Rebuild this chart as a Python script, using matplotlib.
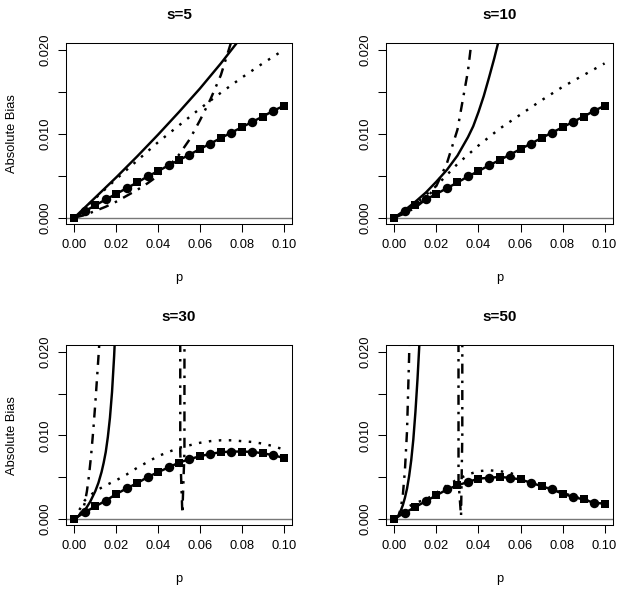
import matplotlib
matplotlib.use('Agg')
import matplotlib.pyplot as plt

plt.rcParams['font.family'] = ['Liberation Sans', 'DejaVu Sans']
plt.rcParams['lines.scale_dashes'] = False

# ---------------- data ----------------
titles = ["s=5", "s=10", "s=30", "s=50"]
x_ticks = [0.00, 0.02, 0.04, 0.06, 0.08, 0.10]
x_tick_labels = ["0.00", "0.02", "0.04", "0.06", "0.08", "0.10"]
y_ticks = [0.000, 0.005, 0.010, 0.015, 0.020]
y_tick_labels = ["0.000", "", "0.010", "", "0.020"]

# marker series (p step 0.005)
p_mk = [0.000, 0.005, 0.010, 0.015, 0.020, 0.025, 0.030, 0.035, 0.040, 0.045, 0.050,
        0.055, 0.060, 0.065, 0.070, 0.075, 0.080, 0.085, 0.090, 0.095, 0.100]
mk_s5 = [0, 0.00075, 0.00147, 0.00216, 0.00283, 0.00351, 0.00419, 0.00491, 0.00555, 0.00623, 0.00686,
         0.00751, 0.00818, 0.00883, 0.00950, 0.01014, 0.01078, 0.01142, 0.01206, 0.01273, 0.01333]
mk_s10 = [0, 0.00075, 0.00147, 0.00216, 0.00283, 0.00351, 0.00419, 0.00491, 0.00555, 0.00623, 0.00686,
          0.00751, 0.00818, 0.00883, 0.00950, 0.01014, 0.01078, 0.01142, 0.01206, 0.01273, 0.01335]
mk_s30 = [0, 0.00076, 0.00147, 0.00215, 0.00295, 0.00363, 0.00426, 0.00498, 0.00558, 0.00614, 0.00673,
          0.00713, 0.00749, 0.00777, 0.00797, 0.00805, 0.00805, 0.00801, 0.00785, 0.00761, 0.00729]
mk_s50 = [0, 0.0007, 0.0014, 0.0021, 0.0028, 0.0035, 0.0040, 0.0044, 0.0048, 0.0049, 0.0050,
          0.0049, 0.0047, 0.0043, 0.0039, 0.0035, 0.0030, 0.0026, 0.0023, 0.0019, 0.0018]

# dotted series
p_dot10 = [0.00, 0.01, 0.02, 0.03, 0.04, 0.05, 0.06, 0.07, 0.08, 0.09, 0.10]
dot_s5 = [0, 0.0023, 0.0046, 0.0068, 0.0090, 0.0110, 0.0130, 0.0149, 0.0167, 0.0184, 0.0200]
dot_s10 = [0, 0.0016, 0.0038, 0.0064, 0.0086, 0.0106, 0.0123, 0.0140, 0.0156, 0.0170, 0.0184]
dot_s30 = [0, 0.0022, 0.0033, 0.0040, 0.0046, 0.0053, 0.0061, 0.0068, 0.0075, 0.0080, 0.0085,
           0.0088, 0.0091, 0.0093, 0.0094, 0.0094, 0.0093, 0.0092, 0.0090, 0.0087, 0.0083]
dot_s50 = [0, 0.0012, 0.0019, 0.0023, 0.0031, 0.0040, 0.0047, 0.0053, 0.0057, 0.0058, 0.0057,
           0.0055, 0.0050, 0.0045, 0.0040, 0.0035, 0.0031, 0.0027, 0.0023, 0.0020, 0.0018]

# solid series
p_sol_s5 = [0.00, 0.01, 0.02, 0.03, 0.04, 0.05, 0.06, 0.07, 0.08]
sol_s5 = [0, 0.0024, 0.0048, 0.0073, 0.0099, 0.0126, 0.0154, 0.0184, 0.0216]
p_sol_s10 = [0.000, 0.005, 0.010, 0.015, 0.020, 0.025, 0.030, 0.035, 0.0375, 0.040, 0.0425,
             0.045, 0.0475, 0.050]
sol_s10 = [0, 0.0009, 0.0019, 0.0030, 0.0043, 0.0057, 0.0074, 0.0096, 0.0109, 0.0126, 0.0145,
           0.0167, 0.0190, 0.0215]
p_sol_s30 = [0.0, 0.0025, 0.005, 0.0075, 0.010, 0.0115, 0.013, 0.014, 0.015, 0.016, 0.017,
             0.018, 0.019, 0.020]
sol_s30 = [0, 0.0004, 0.0010, 0.0020, 0.0033, 0.0043, 0.0056, 0.0067, 0.0080, 0.0098, 0.0121,
           0.0152, 0.0195, 0.0250]
p_sol_s50 = [0.0, 0.002, 0.004, 0.005, 0.006, 0.007, 0.008, 0.009, 0.010, 0.011, 0.012]
sol_s50 = [0, 0.0003, 0.0016, 0.0025, 0.0036, 0.0051, 0.0070, 0.0095, 0.0128, 0.0168, 0.0215]

# dash-dot series (large values run off the top of the plot)
p_dd_s5 = [0.000, 0.005, 0.010, 0.015, 0.020, 0.025, 0.030, 0.035, 0.040, 0.045, 0.050,
           0.055, 0.060, 0.065, 0.070, 0.075, 0.080]
dd_s5 = [0, 0.0003, 0.0008, 0.0013, 0.0019, 0.0026, 0.0033, 0.0041, 0.0050, 0.0061, 0.0075,
         0.0093, 0.0116, 0.0141, 0.0170, 0.0210, 0.0260]
p_dd_s10 = [0.000, 0.005, 0.010, 0.015, 0.020, 0.025, 0.030, 0.035, 0.040]
dd_s10 = [0, 0.0005, 0.0012, 0.0022, 0.0038, 0.0065, 0.0105, 0.0175, 0.0280]
p_dd_s30 = [0.000, 0.002, 0.004, 0.005, 0.006, 0.007, 0.008, 0.009, 0.010, 0.011, 0.012, 0.013,
            0.0504, 0.0506, 0.0516, 0.0526, 0.0528, 0.100]
dd_s30 = [0, 0.0003, 0.0011, 0.0019, 0.0033, 0.0052, 0.0076, 0.0105, 0.0138, 0.0175, 0.0213, 0.0300,
          0.3000, 0.0080, 0.0006, 0.0080, 0.3000, 0.3000]
p_dd_s50 = [0.000, 0.002, 0.003, 0.004, 0.005, 0.006, 0.007, 0.008,
            0.0303, 0.0305, 0.0317, 0.0323, 0.0324, 0.100]
dd_s50 = [0, 0.0004, 0.0012, 0.0028, 0.0058, 0.0105, 0.0195, 0.0350,
          0.3000, 0.0045, 0.0003, 0.0100, 0.3000, 0.3000]

panels = [
    dict(title=titles[0], mk=mk_s5, pdot=p_dot10, dot=dot_s5, psol=p_sol_s5, sol=sol_s5, pdd=p_dd_s5, dd=dd_s5),
    dict(title=titles[1], mk=mk_s10, pdot=p_dot10, dot=dot_s10, psol=p_sol_s10, sol=sol_s10, pdd=p_dd_s10, dd=dd_s10),
    dict(title=titles[2], mk=mk_s30, pdot=p_mk, dot=dot_s30, psol=p_sol_s30, sol=sol_s30, pdd=p_dd_s30, dd=dd_s30),
    dict(title=titles[3], mk=mk_s50, pdot=p_mk, dot=dot_s50, psol=p_sol_s50, sol=sol_s50, pdd=p_dd_s50, dd=dd_s50),
]

# ---------------- layout (pixel boxes: left, top, right, bottom) ----------------
W, H = 624, 594
boxes = [(66, 43.3, 292, 224.3), (386, 43.3, 613, 224.3),
         (66, 345.3, 292, 525.3), (386, 345.3, 613, 525.3)]

fig = plt.figure(figsize=(W / 100, H / 100), dpi=100)
fig.patch.set_facecolor('white')

LW = 1.75
for i, (pan, (l, t, r, b)) in enumerate(zip(panels, boxes)):
    ax = fig.add_axes([l / W, 1 - b / H, (r - l) / W, (b - t) / H])
    ax.set_xlim(-0.004, 0.104)
    ax.set_ylim(-0.0008, 0.0208)
    ax.axhline(0, color='#777777', lw=1.0, zorder=1)

    ax.plot(pan['psol'], pan['sol'], color='black', lw=LW, solid_capstyle='butt',
            solid_joinstyle='round', zorder=3)
    ax.plot(pan['pdot'], pan['dot'], color='black', lw=LW, dashes=[1.8, 5.4],
            dash_capstyle='butt', zorder=3)
    ax.plot(pan['pdd'], pan['dd'], color='black', lw=LW, dashes=[7.2, 5.0, 1.8, 5.0],
            dash_capstyle='butt', zorder=3)

    ax.plot(p_mk, pan['mk'], color='black', lw=LW, zorder=4)
    ax.plot(p_mk[0::2], pan['mk'][0::2], ls='none', marker='s', ms=6.0, mew=0,
            color='black', zorder=5, clip_on=False)
    ax.plot(p_mk[1::2], pan['mk'][1::2], ls='none', marker='o', ms=6.8, mew=0,
            color='black', zorder=5, clip_on=False)

    ax.set_xticks(x_ticks)
    ax.set_xticklabels(x_tick_labels)
    ax.set_yticks(y_ticks)
    ax.set_yticklabels(y_tick_labels)
    ax.tick_params(direction='out', length=5.6, width=0.75, labelsize=9.3, colors='black', pad=5)
    ax.tick_params(axis='y', labelrotation=90)
    for lab in ax.get_yticklabels():
        lab.set_va('center')
    for sp in ax.spines.values():
        sp.set_linewidth(0.75)
        sp.set_color('black')

    cx = (l + r) / 2
    fig.text(cx / W, 1 - (t - 28.5) / H, pan['title'], ha='center', va='center',
             fontsize=11, fontweight='bold')
    fig.text(cx / W, 1 - (b + 54) / H, 'p', ha='center', va='center', fontsize=9.3)
    if i % 2 == 0:
        fig.text(12 / W, 1 - ((t + b) / 2) / H, 'Absolute Bias', ha='center', va='center',
                 rotation=90, fontsize=9.3)

fig.savefig('out.png', dpi=100, facecolor='white')
